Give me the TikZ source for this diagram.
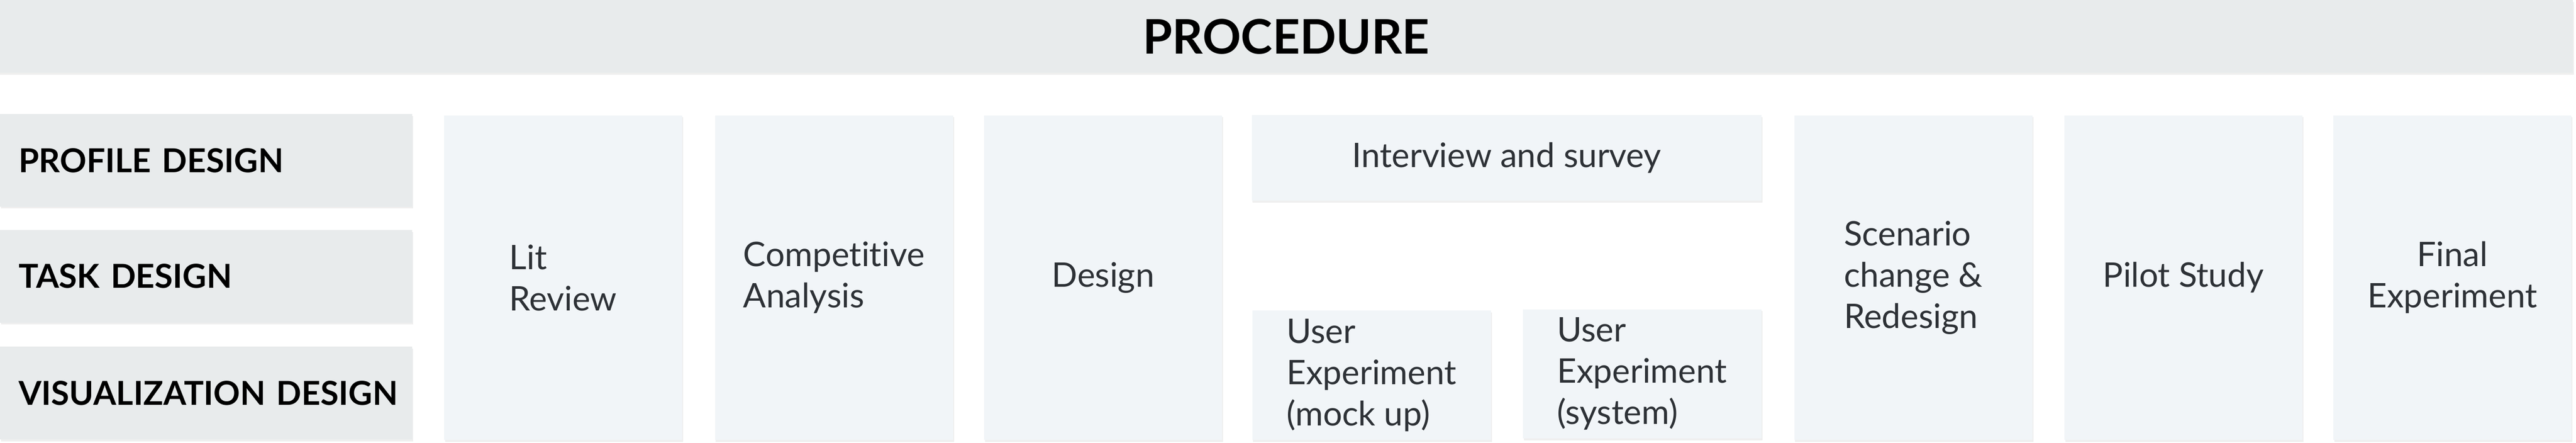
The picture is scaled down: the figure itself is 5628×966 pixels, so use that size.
\documentclass[tikz,border=0pt]{standalone}
\usepackage{fontspec}
\setmainfont{Lato}[Ligatures=NoCommon]
\usetikzlibrary{shadows}
\definecolor{hdr}{HTML}{E8EBEC}
\definecolor{cellc}{HTML}{F1F5F8}
\definecolor{txt}{HTML}{2D3136}
\tikzset{
  sh/.style={drop shadow={opacity=0.12,shadow xshift=0.6pt,shadow yshift=-1.2pt}},
  hdrbox/.style={sh,fill=hdr,draw=none,inner sep=0pt},
  rowlab/.style={hdrbox,minimum width=9cm,minimum height=2.02cm,text width=9cm,inner xsep=0pt,align=left,
     font=\fontsize{20.5}{25}\selectfont\bfseries,text=black},
  cell/.style={sh,fill=cellc,draw=none,inner sep=0pt,minimum width=5.2cm,minimum height=7.08cm,align=left,
     font=\fontsize{21}{25.6}\selectfont,text=txt},
}
\begin{document}
\begin{tikzpicture}[x=0.01cm,y=-0.01cm]
\useasboundingbox[fill=white] (0,0) rectangle (5628,966);
\node[hdrbox,minimum width=56.2cm,minimum height=1.59cm,font=\fontsize{29.6}{34}\selectfont\bfseries,text=black] (title) at (2810,79.5) {PROCEDURE};
\node[rowlab] (profile) at (450,350) {\hspace*{0.41cm}\mbox{PROFILE DESIGN}};
\node[rowlab] (task) at (450,603) {\hspace*{0.41cm}\mbox{TASK DESIGN}};
\node[rowlab] (vis) at (450,858) {\hspace*{0.41cm}\mbox{VISUALIZATION DESIGN}};
\node[cell] (lit) at (1230,606) {Lit\\Review};
\node[cell] (comp) at (1822,606) {Competitive\\Analysis};
\node[cell] (design) at (2410,606) {Design};
\node[cell,minimum width=11.13cm,minimum height=1.87cm] (interview) at (3291.5,344.5) {Interview and survey};
\node[cell,minimum width=5.21cm,minimum height=2.82cm] (mock) at (2996.5,819) {User\\Experiment\\(mock up)};
\node[cell,minimum width=5.21cm,minimum height=2.82cm] (sys) at (3587.5,816) {User\\Experiment\\(system)};
\node[cell] (scen) at (4180,606) {Scenario\\change \&\\Redesign};
\node[cell] (pilot) at (4770,606) {Pilot Study};
\node[cell,align=center] (final) at (5358,606) {Final\\Experiment};
\end{tikzpicture}
\end{document}
